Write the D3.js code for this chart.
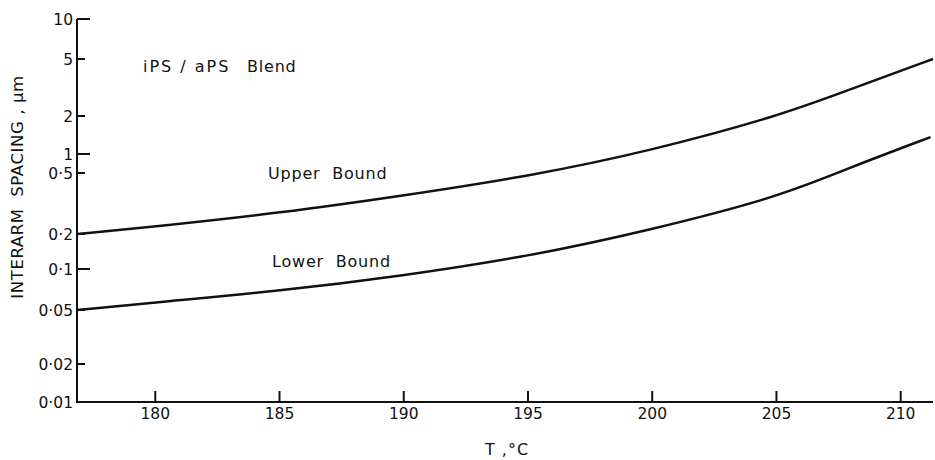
<!DOCTYPE html>
<html>
<head>
<meta charset="utf-8">
<script src="https://cdn.jsdelivr.net/npm/d3@7"></script>
<style>
  html, body { margin: 0; padding: 0; background: #fff; }
  svg { display: block; }
  text { font-family: "DejaVu Sans", sans-serif; fill: #111; }
</style>
</head>
<body>
<svg id="chart" width="935" height="460"></svg>
<script>
// Interarm spacing bounds for the iPS/aPS blend versus temperature
const upperT = [176.85, 180.2, 185.0, 189.9, 195.1, 199.9, 205.1, 207.9, 211.3];
const upperV = [0.2, 0.2255, 0.274, 0.354, 0.478, 1.056, 2.0, 3.04, 5.0];
const lowerT = [176.85, 180.2, 185.0, 189.9, 195.1, 199.9, 205.1, 207.9, 211.2];
const lowerV = [0.05, 0.0573, 0.0689, 0.0888, 0.129, 0.212, 0.349, 0.60, 1.36];

const xTicks = [180, 185, 190, 195, 200, 205, 210];
const yTicks = [0.01, 0.02, 0.05, 0.1, 0.2, 0.5, 1, 2, 5, 10];
const yTickLabels = ["0·01", "0·02", "0·05", "0·1", "0·2", "0·5", "1", "2", "5", "10"];
const decades = [0.01, 0.1, 1, 10];

const svg = d3.select("#chart");
const plotLeft = 77, plotRight = 933, plotTop = 19, plotBottom = 402;

const x = d3.scaleLinear().domain([176.85, 211.3]).range([plotLeft, plotRight]);
// the printed log axis is unevenly spaced, so the scale is piecewise between tick values
const y = d3.scaleLog()
  .domain(yTicks)
  .range([402, 364, 310, 269, 234, 173, 154, 116, 59, 19]);

// axes
const ax = svg.append("g").attr("stroke", "#111").attr("stroke-width", 2).attr("fill", "none");
ax.append("path").attr("d", `M${plotLeft},${plotTop}V${plotBottom}H${plotRight}`);

ax.selectAll(".yt").data(yTicks.filter(v => v !== 0.01)).join("line")
  .attr("x1", plotLeft).attr("x2", d => plotLeft + (decades.includes(d) ? 13 : 8))
  .attr("y1", d => y(d)).attr("y2", d => y(d));

ax.selectAll(".xt").data(xTicks).join("line")
  .attr("x1", d => x(d)).attr("x2", d => x(d))
  .attr("y1", plotBottom).attr("y2", plotBottom - 11);

svg.selectAll(".yl").data(yTicks).join("text")
  .attr("x", plotLeft - 4).attr("y", d => y(d)).attr("dy", "0.36em")
  .attr("text-anchor", "end").attr("font-size", 15.5)
  .text((d, i) => yTickLabels[i]);

svg.selectAll(".xl").data(xTicks).join("text")
  .attr("x", d => x(d)).attr("y", 419)
  .attr("text-anchor", "middle").attr("font-size", 15.5)
  .text(d => d);

// axis titles
svg.append("text")
  .attr("x", 507).attr("y", 455).attr("text-anchor", "middle")
  .attr("font-size", 16).attr("letter-spacing", 1)
  .text("T ,°C");

svg.append("text")
  .attr("transform", "translate(23,187) rotate(-90)")
  .attr("text-anchor", "middle").attr("font-size", 16.5).attr("letter-spacing", 0.6)
  .attr("xml:space", "preserve")
  .text("INTERARM  SPACING , μm");

// curves
const line = d3.line().x(d => x(d[0])).y(d => y(d[1])).curve(d3.curveBasis);
const curves = [d3.zip(upperT, upperV), d3.zip(lowerT, lowerV)];
svg.selectAll(".curve").data(curves).join("path")
  .attr("d", line).attr("fill", "none").attr("stroke", "#111").attr("stroke-width", 2.5);

// annotations
const notes = [
  { t: "iPS / aPS", x: 143, y: 72, ls: 2 },
  { t: "Blend", x: 247, y: 72, ls: 0.8 },
  { t: "Upper  Bound", x: 268, y: 179, ls: 0.8 },
  { t: "Lower  Bound", x: 272, y: 267, ls: 0.8 }
];
svg.selectAll(".note").data(notes).join("text")
  .attr("x", d => d.x).attr("y", d => d.y).attr("font-size", 16)
  .attr("letter-spacing", d => d.ls).attr("xml:space", "preserve")
  .text(d => d.t);
</script>
</body>
</html>
